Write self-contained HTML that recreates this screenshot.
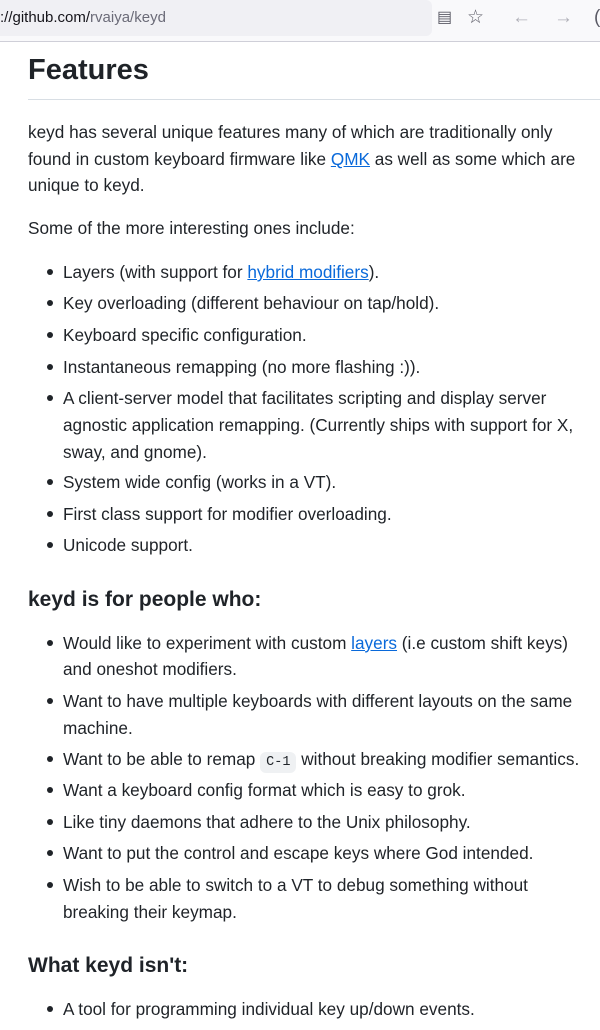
<!DOCTYPE html>
<html><head><meta charset="utf-8"><style>
body{margin:0;width:600px;height:1030px;overflow:hidden;background:#fff;font-family:"Liberation Sans",sans-serif;color:#1f2328;position:relative}
.bar{position:absolute;left:0;top:0;width:600px;height:41px;background:#f9f9fb;border-bottom:1px solid #cfcfd8}
.url{position:absolute;left:0;top:0;width:432px;height:36px;background:#f0f0f4;border-radius:0 6px 6px 0;font-size:15px;line-height:36px;color:#15141a;white-space:nowrap}
.url span{color:#6b6b78}
.ic{position:absolute;top:0;line-height:36px;font-size:19px;color:#5b5b66}
.l{position:absolute;left:28px;white-space:nowrap;font-size:17.2px;line-height:26px;height:26px}
.li{left:63px}
.b{position:absolute;left:47px;width:6px;height:6px;border-radius:50%;background:#1f2328}
a{color:#0969da;text-decoration:underline}
h1{position:absolute;left:28px;top:48px;margin:0;font-size:29px;font-weight:bold;line-height:44px}
.hr{position:absolute;left:28px;top:99px;width:572px;height:1px;background:#d8dee4}
h3{position:absolute;left:28px;margin:0;font-size:21px;font-weight:bold;line-height:30px}
code{font-family:"Liberation Mono",monospace;font-size:13.5px;background:#eff1f3;border-radius:6px;padding:3px 6px}
</style></head><body>
<div class="bar"><div class="url">://github.com/<span>rvaiya/keyd</span></div>
<div class="ic" style="left:437px;font-size:16px">&#9636;</div><div class="ic" style="left:467px">&#9734;</div>
<div class="ic" style="left:512px;color:#b0b0b8">&#8592;</div><div class="ic" style="left:554px;color:#b0b0b8">&#8594;</div><div class="ic" style="left:594px">(</div></div>
<h1>Features</h1><div class="hr"></div>
<div class="l" style="top:119px">keyd has several unique features many of which are traditionally only</div>
<div class="l" style="top:146px">found in custom keyboard firmware like <a>QMK</a> as well as some which are</div>
<div class="l" style="top:172px">unique to keyd.</div>
<div class="l" style="top:215px">Some of the more interesting ones include:</div>

<div class="b" style="top:269px"></div><div class="l li" style="top:259px">Layers (with support for <a>hybrid modifiers</a>).</div>
<div class="b" style="top:300px"></div><div class="l li" style="top:290px">Key overloading (different behaviour on tap/hold).</div>
<div class="b" style="top:332px"></div><div class="l li" style="top:322px">Keyboard specific configuration.</div>
<div class="b" style="top:364px"></div><div class="l li" style="top:354px">Instantaneous remapping (no more flashing :)).</div>
<div class="b" style="top:395px"></div><div class="l li" style="top:385px">A client-server model that facilitates scripting and display server</div>
<div class="l li" style="top:412px">agnostic application remapping. (Currently ships with support for X,</div>
<div class="l li" style="top:439px">sway, and gnome).</div>
<div class="b" style="top:479px"></div><div class="l li" style="top:469px">System wide config (works in a VT).</div>
<div class="b" style="top:511px"></div><div class="l li" style="top:501px">First class support for modifier overloading.</div>
<div class="b" style="top:542px"></div><div class="l li" style="top:532px">Unicode support.</div>

<h3 style="top:585px">keyd is for people who:</h3>
<div class="b" style="top:640px"></div><div class="l li" style="top:630px">Would like to experiment with custom <a>layers</a> (i.e custom shift keys)</div>
<div class="l li" style="top:656px">and oneshot modifiers.</div>
<div class="b" style="top:698px"></div><div class="l li" style="top:688px">Want to have multiple keyboards with different layouts on the same</div>
<div class="l li" style="top:715px">machine.</div>
<div class="b" style="top:756px"></div><div class="l li" style="top:746px">Want to be able to remap <code>C-1</code> without breaking modifier semantics.</div>
<div class="b" style="top:787px"></div><div class="l li" style="top:777px">Want a keyboard config format which is easy to grok.</div>
<div class="b" style="top:819px"></div><div class="l li" style="top:809px">Like tiny daemons that adhere to the Unix philosophy.</div>
<div class="b" style="top:850px"></div><div class="l li" style="top:840px">Want to put the control and escape keys where God intended.</div>
<div class="b" style="top:882px"></div><div class="l li" style="top:872px">Wish to be able to switch to a VT to debug something without</div>
<div class="l li" style="top:899px">breaking their keymap.</div>

<h3 style="top:951px">What keyd isn't:</h3>
<div class="b" style="top:1006px"></div><div class="l li" style="top:996px">A tool for programming individual key up/down events.</div>
</body></html>
